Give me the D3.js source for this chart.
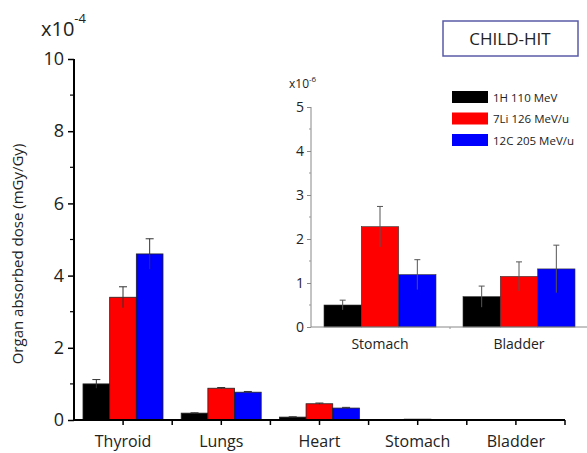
<!DOCTYPE html>
<html lang="en">
<head>
    <meta charset="UTF-8">
    <title>CHILD-HIT organ dose</title>
    <style>
        body { margin: 0; background: #fff; }
        text { font-family: "Open Sans", "DejaVu Sans", sans-serif; }
    </style>
</head>
<body>
<script src="https://d3js.org/d3.v7.min.js"></script>
<script>
    let w = 587, h = 453;

    // main chart data, units of 1e-4 mGy/Gy
    let organs = ["Thyroid", "Lungs", "Heart", "Stomach", "Bladder"];
    let series = ["1H 110 MeV", "7Li 126 MeV/u", "12C 205 MeV/u"];
    let colors = ["#000000", "#ff0000", "#0000ff"];
    let protonVals = [1.0, 0.19, 0.08, 0.005, 0.007];
    let lithiumVals = [3.4, 0.88, 0.45, 0.023, 0.0115];
    let carbonVals = [4.6, 0.77, 0.33, 0.012, 0.0133];
    let protonErr = [0.12, 0.01, 0.01, 0.001, 0.002];
    let lithiumErr = [0.29, 0.02, 0.02, 0.005, 0.003];
    let carbonErr = [0.42, 0.02, 0.02, 0.003, 0.005];
    let mainTicks = [0, 2, 4, 6, 8, 10];

    // inset data, units of 1e-6 mGy/Gy
    let insetOrgans = ["Stomach", "Bladder"];
    let insetProton = [0.50, 0.69];
    let insetLithium = [2.28, 1.15];
    let insetCarbon = [1.19, 1.32];
    let insetProtonErr = [0.11, 0.24];
    let insetLithiumErr = [0.46, 0.33];
    let insetCarbonErr = [0.34, 0.54];
    let insetTicks = [0, 1, 2, 3, 4, 5];

    function rows(cats, vals, errs) {
        let out = [];
        cats.forEach(function (c, i) {
            series.forEach(function (s, j) {
                out.push({cat: c, s: s, col: colors[j], v: vals[j][i], e: errs[j][i]});
            });
        });
        return out;
    }

    let svg = d3.select("body").append("svg")
        .attr("width", w)
        .attr("height", h);

    // ---------- main chart ----------
    let x0 = d3.scaleBand().domain(organs).range([74, 565]);
    let x1 = d3.scaleBand().domain(series).range([9, 89]);
    let y = d3.scaleLinear().domain([0, 10]).range([420, 59]);

    let mainRows = rows(organs, [protonVals, lithiumVals, carbonVals], [protonErr, lithiumErr, carbonErr]);

    let g = svg.append("g");
    g.selectAll("rect.bar")
        .data(mainRows)
        .enter()
        .append("rect")
        .attr("class", "bar")
        .attr("x", d => x0(d.cat) + x1(d.s))
        .attr("width", x1.bandwidth())
        .attr("y", d => y(d.v))
        .attr("height", d => y(0) - y(d.v))
        .attr("fill", d => d.col)
        .attr("stroke", "#222")
        .attr("stroke-width", 0.8);

    let eb = g.selectAll("g.err")
        .data(mainRows.filter(d => d.v > 0.05))
        .enter()
        .append("g")
        .attr("class", "err")
        .attr("stroke", "#333")
        .attr("stroke-width", 1);
    eb.append("line")
        .attr("x1", d => x0(d.cat) + x1(d.s) + x1.bandwidth() / 2)
        .attr("x2", d => x0(d.cat) + x1(d.s) + x1.bandwidth() / 2)
        .attr("y1", d => y(d.v - d.e))
        .attr("y2", d => y(d.v + d.e));
    eb.append("line")
        .attr("x1", d => x0(d.cat) + x1(d.s) + x1.bandwidth() / 2 - 4)
        .attr("x2", d => x0(d.cat) + x1(d.s) + x1.bandwidth() / 2 + 4)
        .attr("y1", d => y(d.v + d.e))
        .attr("y2", d => y(d.v + d.e));

    // y axis
    let yAxis = g.append("g")
        .attr("transform", "translate(74,0)")
        .call(d3.axisLeft(y).tickValues(mainTicks).tickSize(6).tickPadding(4).tickFormat(d3.format("d")));
    yAxis.select(".domain").attr("d", "M0," + y(10) + "V" + y(0)).attr("stroke-width", 2);
    yAxis.selectAll(".tick line").attr("stroke-width", 1.5);
    yAxis.selectAll(".tick text").style("font-size", "18px").attr("fill", "#222");
    g.append("g")
        .attr("transform", "translate(74,0)")
        .selectAll("line")
        .data([1, 3, 5, 7, 9])
        .enter()
        .append("line")
        .attr("x1", -4).attr("x2", 0)
        .attr("y1", d => y(d)).attr("y2", d => y(d))
        .attr("stroke", "#000").attr("stroke-width", 1.2);

    // x axis
    let xa = g.append("g").attr("transform", "translate(0," + y(0) + ")");
    xa.append("line")
        .attr("x1", 74).attr("x2", 565)
        .attr("stroke", "#000").attr("stroke-width", 2);
    let xTickPos = organs.map(o => x0(o) + x0.bandwidth() / 2)
        .concat(organs.map(o => x0(o) + x0.bandwidth()));
    xa.selectAll("line.t")
        .data(xTickPos)
        .enter()
        .append("line")
        .attr("class", "t")
        .attr("x1", d => d).attr("x2", d => d)
        .attr("y1", 0).attr("y2", 5)
        .attr("stroke", "#000").attr("stroke-width", 1.5);
    xa.selectAll("text")
        .data(organs)
        .enter()
        .append("text")
        .attr("x", d => x0(d) + x0.bandwidth() / 2)
        .attr("y", 27)
        .attr("text-anchor", "middle")
        .style("font-size", "16px")
        .attr("fill", "#222")
        .text(d => d);

    // y title + exponent
    svg.append("text")
        .attr("transform", "translate(23,254) rotate(-90)")
        .attr("text-anchor", "middle")
        .style("font-size", "15px")
        .attr("fill", "#222")
        .text("Organ absorbed dose (mGy/Gy)");
    let ex = svg.append("text")
        .attr("x", 41).attr("y", 36)
        .style("font-size", "20px")
        .attr("fill", "#222");
    ex.append("tspan").text("x10");
    ex.append("tspan").attr("dy", -13).style("font-size", "13px").text("-4");

    // title box
    svg.append("rect")
        .attr("x", 443).attr("y", 21)
        .attr("width", 135).attr("height", 35)
        .attr("fill", "#fff")
        .attr("stroke", "#5a5aa8").attr("stroke-width", 1.5);
    svg.append("text")
        .attr("x", 510).attr("y", 45)
        .attr("text-anchor", "middle")
        .style("font-size", "17px")
        .attr("fill", "#222")
        .text("CHILD-HIT");

    // legend
    let lg = svg.selectAll("g.leg")
        .data(series)
        .enter()
        .append("g")
        .attr("class", "leg")
        .attr("transform", (d, i) => "translate(452," + (91 + i * 21.5) + ")");
    lg.append("rect")
        .attr("width", 36).attr("height", 12)
        .attr("fill", (d, i) => colors[i]);
    lg.append("text")
        .attr("x", 41).attr("y", 10.5)
        .style("font-size", "11.5px")
        .attr("fill", "#222")
        .text(d => d);

    // ---------- inset ----------
    let ix0 = d3.scaleBand().domain(insetOrgans).range([311, 589]);
    let ix1 = d3.scaleBand().domain(series).range([13, 125]);
    let iy = d3.scaleLinear().domain([0, 5]).range([327, 107]);

    let insetRows = rows(insetOrgans, [insetProton, insetLithium, insetCarbon],
        [insetProtonErr, insetLithiumErr, insetCarbonErr]);

    let ig = svg.append("g");
    ig.selectAll("rect.bar")
        .data(insetRows)
        .enter()
        .append("rect")
        .attr("class", "bar")
        .attr("x", d => ix0(d.cat) + ix1(d.s))
        .attr("width", ix1.bandwidth())
        .attr("y", d => iy(d.v))
        .attr("height", d => iy(0) - iy(d.v))
        .attr("fill", d => d.col)
        .attr("stroke", "#333")
        .attr("stroke-width", 0.6);

    let ieb = ig.selectAll("g.err")
        .data(insetRows)
        .enter()
        .append("g")
        .attr("class", "err")
        .attr("stroke", "#555")
        .attr("stroke-width", 1);
    ieb.append("line")
        .attr("x1", d => ix0(d.cat) + ix1(d.s) + ix1.bandwidth() / 2)
        .attr("x2", d => ix0(d.cat) + ix1(d.s) + ix1.bandwidth() / 2)
        .attr("y1", d => iy(d.v - d.e))
        .attr("y2", d => iy(d.v + d.e));
    ieb.append("line")
        .attr("x1", d => ix0(d.cat) + ix1(d.s) + ix1.bandwidth() / 2 - 3)
        .attr("x2", d => ix0(d.cat) + ix1(d.s) + ix1.bandwidth() / 2 + 3)
        .attr("y1", d => iy(d.v + d.e))
        .attr("y2", d => iy(d.v + d.e));

    let iya = ig.append("g")
        .attr("transform", "translate(311,0)")
        .call(d3.axisLeft(iy).tickValues(insetTicks).tickSize(4).tickPadding(3).tickFormat(d3.format("d")));
    iya.select(".domain").attr("d", "M0," + iy(5) + "V" + iy(0)).attr("stroke", "#888");
    iya.selectAll(".tick line").attr("stroke", "#888");
    iya.selectAll(".tick text").style("font-size", "14px").attr("fill", "#222");
    ig.append("g")
        .attr("transform", "translate(311,0)")
        .selectAll("line")
        .data([0.5, 1.5, 2.5, 3.5, 4.5])
        .enter()
        .append("line")
        .attr("x1", -2).attr("x2", 0)
        .attr("y1", d => iy(d)).attr("y2", d => iy(d))
        .attr("stroke", "#999");

    let ixa = ig.append("g").attr("transform", "translate(0," + iy(0) + ")");
    ixa.append("line")
        .attr("x1", 311).attr("x2", 589)
        .attr("stroke", "#888").attr("stroke-width", 1);
    ixa.append("line")
        .attr("x1", ix0("Bladder")).attr("x2", ix0("Bladder"))
        .attr("y1", 0).attr("y2", 2)
        .attr("stroke", "#999");
    ixa.selectAll("text")
        .data(insetOrgans)
        .enter()
        .append("text")
        .attr("x", d => ix0(d) + ix1.range()[0] + (ix1.range()[1] - ix1.range()[0]) / 2)
        .attr("y", 22)
        .attr("text-anchor", "middle")
        .style("font-size", "14px")
        .attr("fill", "#222")
        .text(d => d);

    let iex = svg.append("text")
        .attr("x", 289).attr("y", 88)
        .style("font-size", "12px")
        .attr("fill", "#222");
    iex.append("tspan").text("x10");
    iex.append("tspan").attr("dy", -6).style("font-size", "8px").text("-6");
</script>
</body>
</html>
